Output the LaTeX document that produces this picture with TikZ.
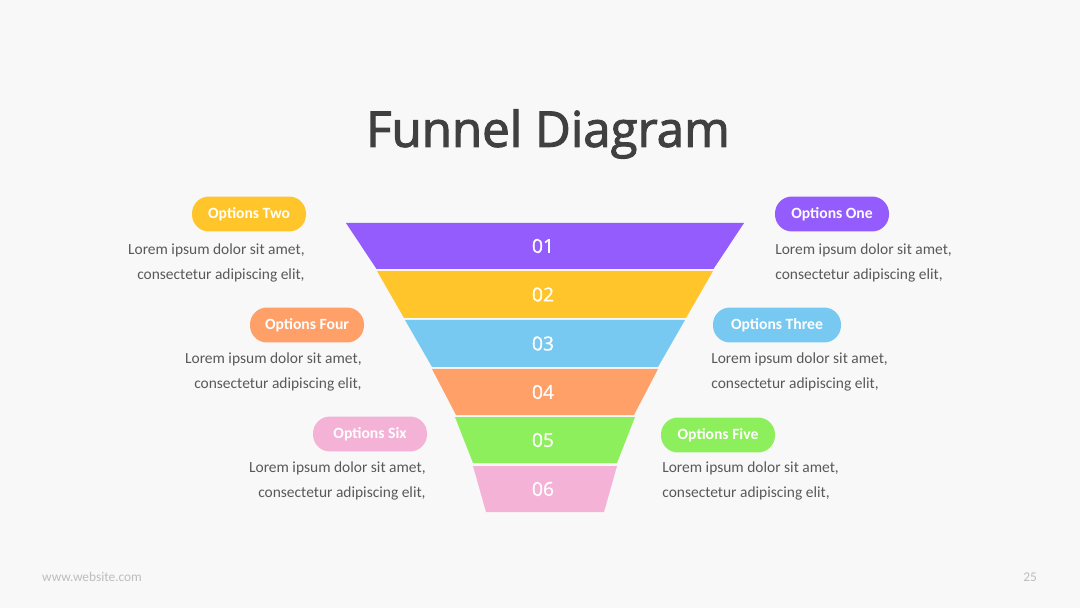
\documentclass[tikz,border=0pt]{standalone}
\usepackage{fontspec}
\setmainfont{Carlito}
\newfontfamily\titlefont[FakeBold=2.2]{Open Sans}
\newfontfamily\numfont[FakeBold=0.8]{Open Sans}
\usetikzlibrary{positioning}
\definecolor{bg}{HTML}{F8F8F8}
\definecolor{ink}{HTML}{404040}
\definecolor{bodytext}{HTML}{595959}
\definecolor{foot}{HTML}{BDBDBD}
\definecolor{fpurple}{HTML}{955CFD}
\definecolor{fyellow}{HTML}{FFC52B}
\definecolor{fblue}{HTML}{77C9F2}
\definecolor{forange}{HTML}{FFA068}
\definecolor{fgreen}{HTML}{8DEF5C}
\definecolor{fpink}{HTML}{F4B3D6}
\tikzset{
  pill/.style={fill=#1,text=white,rounded corners=0.34cm,minimum height=0.7cm,inner xsep=0.1cm,font=\bfseries\fontsize{8.9}{10}\selectfont},
  lorem/.style={text=bodytext,align=#1,inner sep=0pt,font=\fontsize{8.8}{14.7}\selectfont}
}

\begin{document}
\begin{tikzpicture}[
      x=0.02cm,y=-0.02cm,
      num/.style={text=white,font=\numfont\fontsize{11}{12}\selectfont},
      footer/.style={text=foot,font=\fontsize{7.6}{8}\selectfont}
    ]
      \fill[bg] (0,0) rectangle (1080,608);
      \useasboundingbox (0,0) rectangle (1080,608);

      \node[text=ink,font=\titlefont\fontsize{28}{32}\selectfont] (title) at (548,134) {Funnel Diagram};

      % funnel stages: index/top y/bottom y/top half width/bottom half width/colour
      \foreach \i/\ya/\yb/\wa/\wb/\col in {1/223/269/199/168.5/fpurple,2/271/318/168/141/fyellow,3/320/367/140/113/fblue,4/369/415/113/89/forange,5/417/463/90/72/fgreen,6/466/512/72/59/fpink} {
        \fill[\col] (545-\wa,\ya) -- (545+\wa,\ya) -- (545+\wb,\yb) -- (545-\wb,\yb) -- cycle;
        \node[num] (n\i) at (543,{(\ya+\yb)/2}) {0\i};
      }

      \foreach \n/\x/\y/\w/\c/\t in {two/249/214/114/fyellow/Options Two,four/307/325/114/forange/Options Four,six/370/434/114/fpink/Options Six,one/832/214/114/fpurple/Options One,three/777/325/128/fblue/Options Three,five/718/435/114/fgreen/Options Five} {
        \node[pill=\c,minimum width=\w*0.02cm] (\n) at (\x,\y) {\t};
      }

      \foreach \n/\x/\y in {two/305/263,four/362/372,six/426/481} {
        \node[lorem=right,anchor=east] (txt\n) at (\x,\y) {Lorem ipsum dolor sit amet,\\consectetur adipiscing elit,};
      }
      \foreach \n/\x/\y in {one/775/263,three/711/372,five/662/481} {
        \node[lorem=left,anchor=west] (txt\n) at (\x,\y) {Lorem ipsum dolor sit amet,\\consectetur adipiscing elit,};
      }

      \node[footer,anchor=west] (site) at (36,577) {www.website.com};
      \node[footer,anchor=east] (page) at (1043,577) {25};

    \end{tikzpicture}
\end{document}
